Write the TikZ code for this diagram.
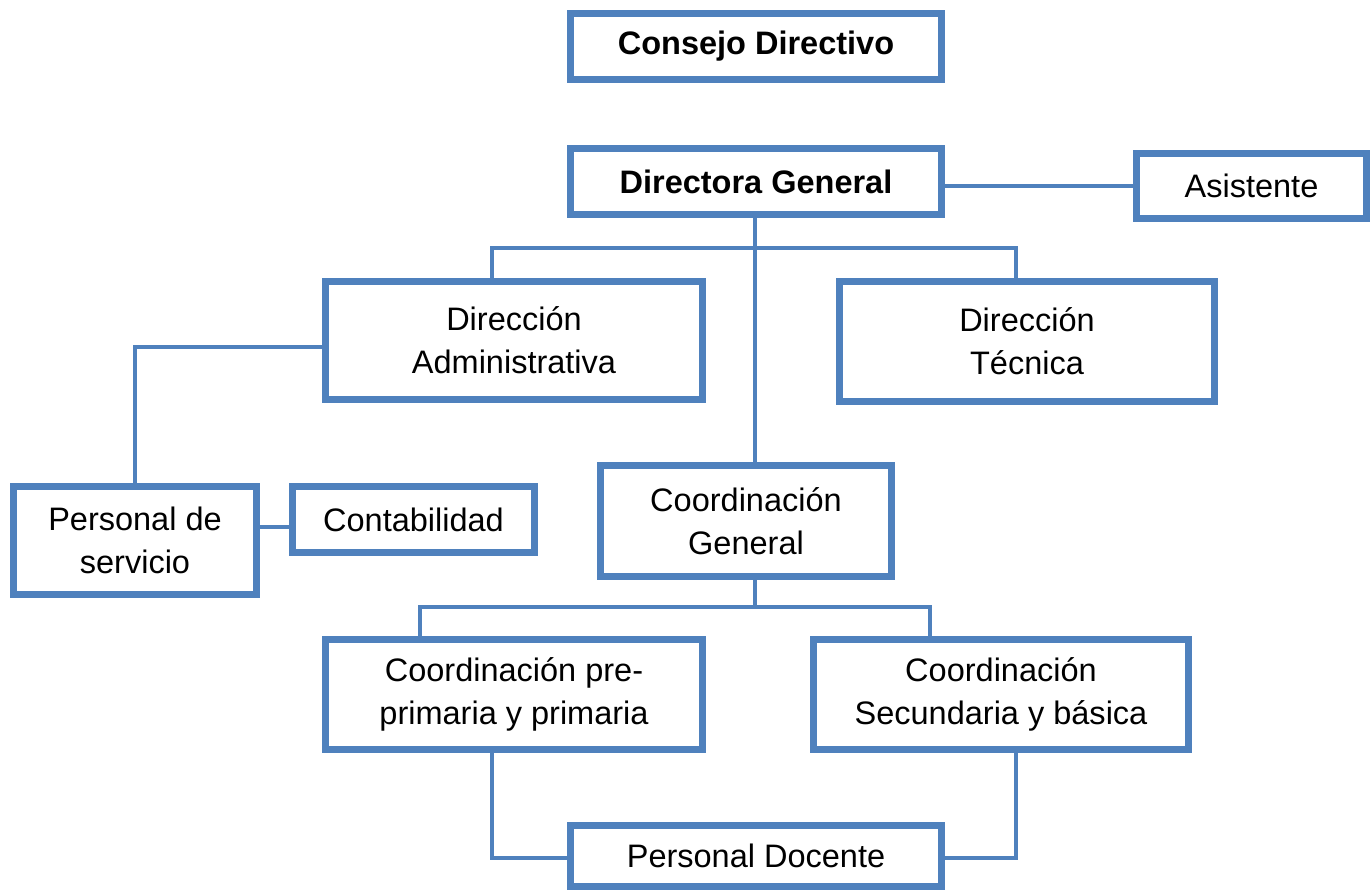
\documentclass[tikz,border=0pt]{standalone}
\usepackage{fontspec}
\setmainfont{Liberation Sans}
\definecolor{azulorg}{RGB}{79,129,189}
\tikzset{
  caja/.style={draw=azulorg, line width=3.8pt, fill=white, align=center, inner sep=0pt,
               font=\fontsize{18.5}{24.5}\selectfont},
  linea/.style={draw=azulorg, line width=1.8pt}
}
\begin{document}
\begin{tikzpicture}[x=0.02cm, y=-0.02cm]
  \useasboundingbox [fill=white] (0,0) rectangle (1372,893);

  % cajas
  \node [caja, font=\fontsize{18.5}{24.5}\selectfont\bfseries, minimum width=7.42cm, minimum height=1.32cm] (consejo) at (756,46.5) {Consejo Directivo};
  \node [caja, font=\fontsize{18.5}{24.5}\selectfont\bfseries, minimum width=7.42cm, minimum height=1.32cm] (directora) at (756,181.5) {Directora General};
  \node [caja, minimum width=4.6cm, minimum height=1.3cm] (asistente) at (1251.5,186) {Asistente};
  \node [caja, minimum width=7.54cm, minimum height=2.36cm] (diradm) at (514,340.5) {Dirección\\Administrativa};
  \node [caja, minimum width=7.5cm, minimum height=2.4cm] (dirtec) at (1027,341.5) {Dirección\\Técnica};
  \node [caja, minimum width=4.86cm, minimum height=2.16cm] (persserv) at (135,540.5) {Personal de\\servicio};
  \node [caja, minimum width=4.84cm, minimum height=1.32cm] (contab) at (413.5,519.5) {Contabilidad};
  \node [caja, minimum width=5.82cm, minimum height=2.22cm] (coordgen) at (746,521) {Coordinación\\General};
  \node [caja, minimum width=7.54cm, minimum height=2.2cm] (coordpre) at (514,694.5) {Coordinación pre-\\primaria y primaria};
  \node [caja, minimum width=7.5cm, minimum height=2.2cm] (coordsec) at (1001,694.5) {Coordinación\\Secundaria y básica};
  \node [caja, minimum width=7.42cm, minimum height=1.22cm] (docente) at (756,856) {Personal Docente};

  % puntos de quiebre
  \coordinate (tronco) at (755,248);
  \coordinate (ramaA) at (492,248);
  \coordinate (ramaT) at (1016,248);
  \coordinate (codoS) at (135,347);
  \coordinate (enlC) at (275,527);
  \coordinate (baseG) at (755,607);
  \coordinate (ramaP) at (420,607);
  \coordinate (ramaS) at (930,607);
  \coordinate (bajaP) at (492,858);
  \coordinate (bajaS) at (1016,858);

  % conectores
  \draw [linea] (directora.east |- asistente.west) -- (asistente.west);
  \draw [linea] (directora.south -| tronco) -- (tronco |- coordgen.north);
  \draw [linea] (ramaA |- diradm.north) -- (ramaA) -- (ramaT) -- (ramaT |- dirtec.north);
  \draw [linea] (diradm.west |- codoS) -- (codoS) -- (persserv.north);
  \draw [linea] (persserv.east |- enlC) -- (contab.west |- enlC);
  \draw [linea] (coordgen.south -| baseG) -- (baseG);
  \draw [linea] (ramaP |- coordpre.north) -- (ramaP) -- (ramaS) -- (ramaS |- coordsec.north);
  \draw [linea] (coordpre.south -| bajaP) -- (bajaP) -- (docente.west |- bajaP);
  \draw [linea] (coordsec.south -| bajaS) -- (bajaS) -- (docente.east |- bajaS);
\end{tikzpicture}
\end{document}
